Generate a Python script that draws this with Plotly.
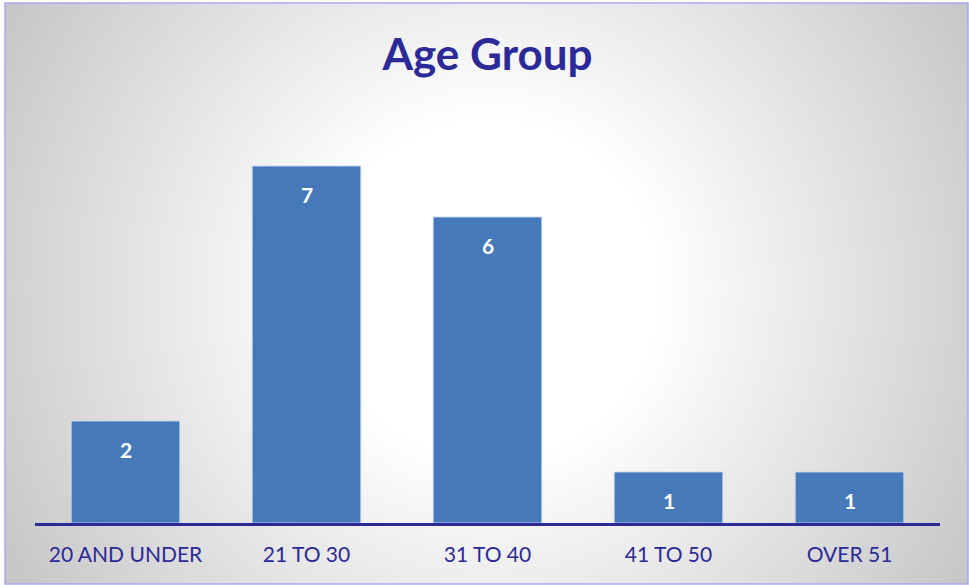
import base64
import plotly.graph_objects as go

categories = ["20 AND UNDER", "21 TO 30", "31 TO 40", "41 TO 50", "OVER 51"]
counts = [2, 7, 6, 1, 1]
title_text = "Age Group"

W, H = 969, 585
ML, MR, MT, MB = 35, 29, 115, 62
PW, PH = W - ML - MR, H - MT - MB

FONT = "Lato"
NAVY = "#2b2a98"
BAR = "#4579b9"

# radial gradient background as svg
bx0, by0, bx1, by1 = 5, 3, 968, 584
svg = f'''<svg xmlns="http://www.w3.org/2000/svg" width="{bx1-bx0}" height="{by1-by0}" viewBox="0 0 {bx1-bx0} {by1-by0}">
<defs><radialGradient id="g" gradientUnits="userSpaceOnUse" cx="{490-bx0}" cy="{290-by0}" r="600">
<stop offset="0.28" stop-color="#ffffff"/><stop offset="1" stop-color="#c0c0c0"/></radialGradient></defs>
<rect x="0" y="0" width="{bx1-bx0}" height="{by1-by0}" fill="url(#g)"/></svg>'''
src = "data:image/svg+xml;base64," + base64.b64encode(svg.encode()).decode()

def px2x(px):
    return (px - ML) / PW

def py2y(py):
    return 1 - (py - MT) / PH

fig = go.Figure()
fig.add_trace(go.Bar(
    x=categories, y=counts,
    marker=dict(color=BAR, line=dict(color="rgba(200,215,235,0.9)", width=1)),
    width=0.6, hoverinfo="skip",
))

annotations = [
    dict(x=c, y=v, xref="x", yref="y", text=f"<b>{v}</b>", showarrow=False,
         yshift=-28, font=dict(family=FONT, size=21, color="white"))
    for c, v in zip(categories, counts)
]

fig.update_layout(
    width=W, height=H,
    margin=dict(l=ML, r=MR, t=MT, b=MB, pad=0),
    paper_bgcolor="white", plot_bgcolor="rgba(0,0,0,0)",
    showlegend=False,
    title=dict(text=f"<b>{title_text}</b>", x=0.5, xref="paper", xanchor="center",
               y=1 - 55 / H, yref="container", yanchor="middle",
               font=dict(family=FONT, size=44, color=NAVY)),
    xaxis=dict(showline=True, linecolor=NAVY, linewidth=3, showgrid=False,
               ticks="", ticklabelstandoff=11, range=[-0.5, 4.5],
               tickfont=dict(family=FONT, size=21, color=NAVY), fixedrange=True),
    yaxis=dict(range=[0, PH / 51.0], showgrid=False, showticklabels=False,
               zeroline=False, showline=False, fixedrange=True),
    annotations=annotations,
    images=[dict(source=src, xref="paper", yref="paper",
                 x=px2x(bx0), y=py2y(by0), sizex=(bx1 - bx0) / PW, sizey=(by1 - by0) / PH,
                 xanchor="left", yanchor="top", sizing="stretch", layer="below")],
    shapes=[dict(type="rect", xref="paper", yref="paper",
                 x0=px2x(bx0), x1=px2x(bx1), y0=py2y(by1), y1=py2y(by0),
                 line=dict(color="#a9a9ec", width=1.5), fillcolor="rgba(0,0,0,0)",
                 layer="above")],
)

fig.write_html("out.html", config={"displayModeBar": False})
